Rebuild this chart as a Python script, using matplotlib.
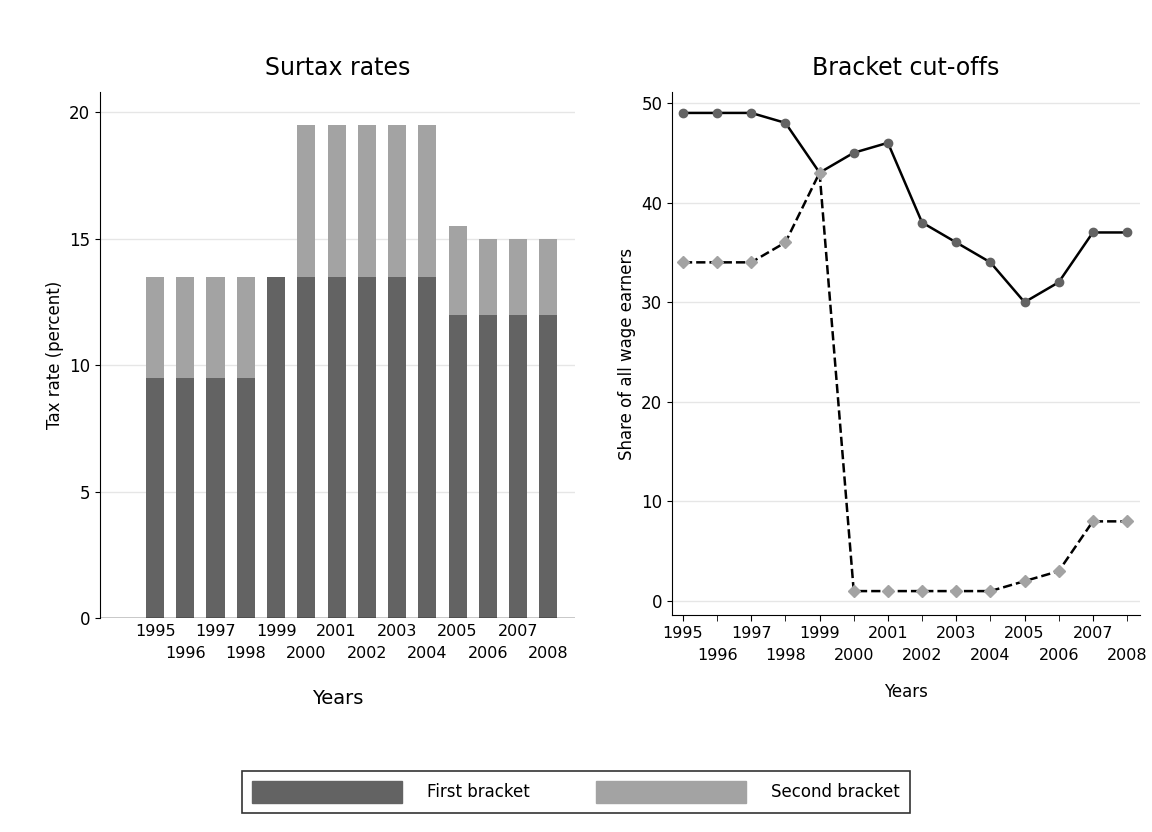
import matplotlib
matplotlib.use("Agg")
import matplotlib.pyplot as plt
import numpy as np

years = list(range(1995, 2009))
first_bracket = [9.5]*4 + [13.5]*6 + [12]*4
total_rate = [13.5]*4 + [13.5] + [19.5]*5 + [15.5, 15, 15, 15]
second_bracket = [t - f for t, f in zip(total_rate, first_bracket)]
cut_first = [49, 49, 49, 48, 43, 45, 46, 38, 36, 34, 30, 32, 37, 37]
cut_second = [34, 34, 34, 36, 43, 1, 1, 1, 1, 1, 2, 3, 8, 8]

dark = "#636363"
light = "#a3a3a3"
W, H = 1152, 832
fig = plt.figure(figsize=(W/100, H/100), dpi=100)
fig.patch.set_facecolor("white")


def two_row_ticks(ax, pos, ticklen):
    odd = [p for p, y in zip(pos, years) if y % 2 == 1]
    even = [p for p, y in zip(pos, years) if y % 2 == 0]
    ax.set_xticks(odd)
    ax.set_xticklabels([str(y) for y in years if y % 2 == 1], fontsize=11.5)
    ax.set_xticks(even, minor=True)
    ax.set_xticklabels([str(y) for y in years if y % 2 == 0], minor=True, fontsize=11.5)
    ax.tick_params(axis="x", which="major", length=ticklen, pad=4)
    ax.tick_params(axis="x", which="minor", length=ticklen, pad=20)


ax1 = fig.add_axes([100/W, 1-618/H, 475/W, (618-92)/H])
x = np.arange(len(years))
ax1.bar(x, first_bracket, width=0.6, color=dark, zorder=2)
ax1.bar(x, second_bracket, bottom=first_bracket, width=0.6, color=light, zorder=2)
ax1.set_ylim(0, 20.8)
ax1.set_xlim(-1.82, 13.88)
ax1.set_yticks([0, 5, 10, 15, 20])
ax1.yaxis.grid(True, color="#e6e6e6", lw=1, zorder=0)
two_row_ticks(ax1, list(x), 0)
ax1.tick_params(axis="y", labelsize=12)
for s in ["top", "right", "bottom"]:
    ax1.spines[s].set_visible(False)
ax1.axhline(0, color="black", lw=1)
ax1.set_ylabel("Tax rate (percent)", fontsize=12)
ax1.set_xlabel("Years", fontsize=14, labelpad=20)
ax1.set_title("Surtax rates", fontsize=17, pad=12)

ax2 = fig.add_axes([672/W, 1-615/H, 468/W, (615-92)/H])
ax2.plot(years, cut_first, color="black", lw=1.8, marker="o", ms=6, mfc=dark, mec=dark, zorder=3)
ax2.plot(years, cut_second, color="black", lw=1.8, ls="--", marker="D", ms=6.5, mfc=light, mec=light, zorder=3)
ax2.set_ylim(-1.4, 51.1)
ax2.set_xlim(1994.68, 2008.38)
ax2.set_yticks([0, 10, 20, 30, 40, 50])
ax2.yaxis.grid(True, color="#e6e6e6", lw=1, zorder=0)
two_row_ticks(ax2, years, 4)
ax2.tick_params(axis="y", labelsize=12)
for s in ["top", "right"]:
    ax2.spines[s].set_visible(False)
ax2.set_ylabel("Share of all wage earners", fontsize=12)
ax2.set_xlabel("Years", fontsize=12, labelpad=14)
ax2.set_title("Bracket cut-offs", fontsize=17, pad=12)

from matplotlib.patches import Patch
handles = [Patch(color=dark), Patch(color=light)]
leg = fig.legend(handles, ["First bracket", "Second bracket"], loc="center",
                 bbox_to_anchor=(0.5, 1-792/H), ncol=2, fontsize=12,
                 handlelength=9, handleheight=1.6, columnspacing=4,
                 handletextpad=1.5, fancybox=False, edgecolor="black", borderpad=0.6)
leg.get_frame().set_linewidth(1.2)
fig.savefig("out.png", dpi=100, facecolor="white")
